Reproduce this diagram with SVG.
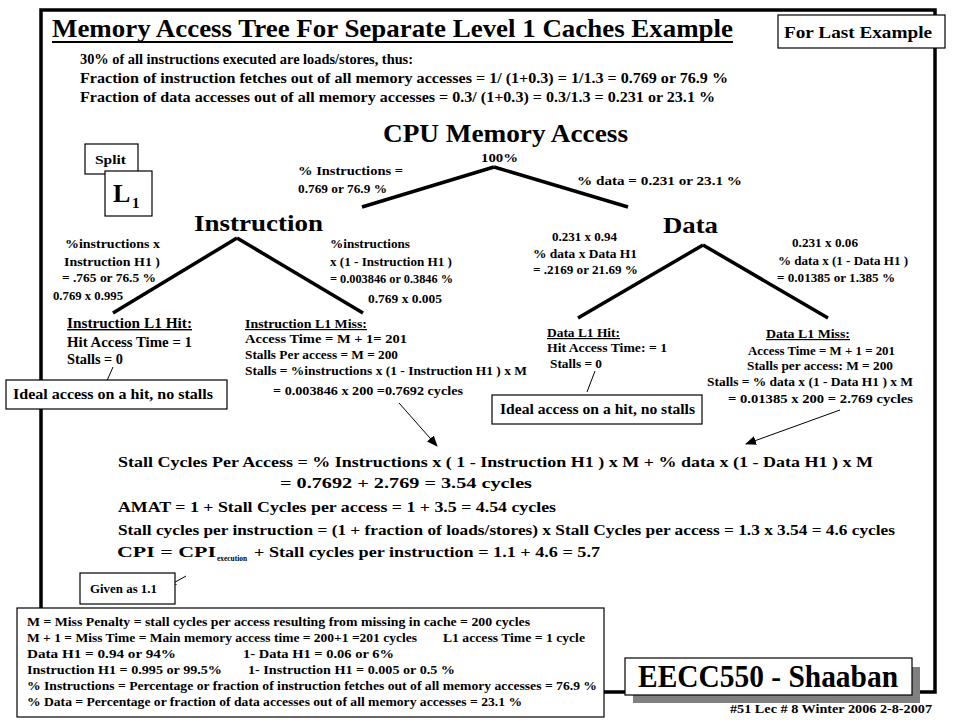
<svg xmlns="http://www.w3.org/2000/svg" width="960" height="720" viewBox="0 0 960 720">
<defs>
<marker id="arr" markerWidth="11" markerHeight="9" refX="10" refY="4.5" orient="auto" markerUnits="userSpaceOnUse">
<path d="M0,0 L11,4.5 L0,9 z" fill="#000"/>
</marker>
<marker id="arrs" markerWidth="7" markerHeight="6" refX="6" refY="3" orient="auto" markerUnits="userSpaceOnUse">
<path d="M0,0 L7,3 L0,6" fill="none" stroke="#000" stroke-width="1"/>
</marker>
<style>
text { font-family: "Liberation Serif", "Times New Roman", serif; font-weight: bold; fill: #000; }
.f30 { font-size: 31px; }
.f26 { font-size: 26px; }
.f24 { font-size: 24px; }
.f16 { font-size: 16px; }
.f15 { font-size: 15px; }
.f14 { font-size: 14px; }
.f13 { font-size: 13px; }
.f12 { font-size: 12px; }
.f11 { font-size: 11.5px; }
.u { text-decoration: underline; }
.box { fill: #fff; stroke: #000; stroke-width: 1.2; }
.tree { stroke: #000; stroke-width: 3.5; fill: none; }
.thin { stroke: #000; stroke-width: 1; fill: none; }
</style>
</defs>
<rect width="960" height="720" fill="#fff"/>
<rect id="frame" x="41" y="10" width="894" height="682" fill="none" stroke="#000" stroke-width="3.5"/>

<g id="title">
<text class="f26" x="52" y="37" textLength="681" lengthAdjust="spacingAndGlyphs">Memory Access Tree For Separate Level 1 Caches Example</text>
<line x1="52" y1="42" x2="733" y2="42" stroke="#000" stroke-width="2"/>
</g>

<g id="note-last">
<rect class="box" x="778" y="15" width="167" height="33"/>
<text class="f16" x="784" y="38" textLength="148" lengthAdjust="spacingAndGlyphs">For Last Example</text>
</g>

<g id="intro">
<text class="f14" x="80" y="64" textLength="333" lengthAdjust="spacingAndGlyphs">30% of all instructions executed are loads/stores, thus:</text>
<text class="f14" x="80" y="83" textLength="648" lengthAdjust="spacingAndGlyphs">Fraction of instruction fetches out of all memory accesses = 1/ (1+0.3) = 1/1.3 = 0.769 or 76.9 %</text>
<text class="f14" x="80" y="102" textLength="635" lengthAdjust="spacingAndGlyphs">Fraction of data accesses out of all memory accesses = 0.3/ (1+0.3) = 0.3/1.3 = 0.231 or 23.1 %</text>
</g>

<g id="root">
<text class="f26" x="383" y="142" textLength="245" lengthAdjust="spacingAndGlyphs">CPU Memory Access</text>
<text class="f13" x="481" y="162" textLength="37" lengthAdjust="spacingAndGlyphs">100%</text>
</g>

<g id="split-l1">
<rect class="box" x="85" y="144" width="53" height="30"/>
<text class="f13" x="95" y="164" textLength="31" lengthAdjust="spacingAndGlyphs">Split</text>
<rect class="box" x="105" y="171" width="47" height="45"/>
<text class="f26" x="113" y="202">L</text>
<text class="f15" x="132" y="208">1</text>
</g>

<g id="instruction">
<text class="f24" x="194" y="231" textLength="129" lengthAdjust="spacingAndGlyphs">Instruction</text>
</g>

<g id="data">
<text class="f24" x="663" y="233" textLength="55" lengthAdjust="spacingAndGlyphs">Data</text>
</g>

<g id="connectors">
<line class="tree" x1="494" y1="167" x2="362" y2="207"/>
<line class="tree" x1="494" y1="167" x2="628" y2="207"/>
<line class="tree" x1="237" y1="238" x2="113" y2="313"/>
<line class="tree" x1="237" y1="238" x2="363" y2="313"/>
<line class="tree" x1="703" y1="245" x2="578" y2="318"/>
<line class="tree" x1="703" y1="245" x2="828" y2="318"/>
<line class="thin" x1="113" y1="367" x2="106" y2="383"/>
<line class="thin" x1="595" y1="371" x2="587" y2="392"/>
<line class="thin" x1="399" y1="403" x2="437" y2="446" marker-end="url(#arr)"/>
<line class="thin" x1="840" y1="410" x2="746" y2="444" marker-end="url(#arr)"/>
<line class="thin" x1="186" y1="576" x2="170" y2="585" marker-end="url(#arrs)"/>
</g>

<g id="edge-labels">
<text class="f13" x="298" y="175" textLength="105" lengthAdjust="spacingAndGlyphs">% Instructions =</text>
<text class="f13" x="298" y="193" textLength="89" lengthAdjust="spacingAndGlyphs">0.769 or 76.9 %</text>
<text class="f13" x="577" y="185" textLength="165" lengthAdjust="spacingAndGlyphs">% data = 0.231 or 23.1 %</text>
<text class="f12" x="65" y="248" textLength="95" lengthAdjust="spacingAndGlyphs">%instructions x</text>
<text class="f12" x="64" y="266" textLength="96" lengthAdjust="spacingAndGlyphs">Instruction H1 )</text>
<text class="f12" x="62" y="282" textLength="94" lengthAdjust="spacingAndGlyphs">= .765 or 76.5 %</text>
<text class="f12" x="53" y="300" textLength="70" lengthAdjust="spacingAndGlyphs">0.769 x 0.995</text>
<text class="f12" x="330" y="248" textLength="80" lengthAdjust="spacingAndGlyphs">%instructions</text>
<text class="f12" x="330" y="266" textLength="122" lengthAdjust="spacingAndGlyphs">x (1 - Instruction H1 )</text>
<text class="f12" x="330" y="283" textLength="123" lengthAdjust="spacingAndGlyphs">= 0.003846 or 0.3846 %</text>
<text class="f12" x="368" y="303" textLength="74" lengthAdjust="spacingAndGlyphs">0.769 x 0.005</text>
<text class="f12" x="552" y="241" textLength="65" lengthAdjust="spacingAndGlyphs">0.231 x 0.94</text>
<text class="f12" x="533" y="258" textLength="104" lengthAdjust="spacingAndGlyphs">% data x Data H1</text>
<text class="f12" x="533" y="274" textLength="105" lengthAdjust="spacingAndGlyphs">= .2169 or 21.69 %</text>
<text class="f12" x="792" y="247" textLength="66" lengthAdjust="spacingAndGlyphs">0.231 x 0.06</text>
<text class="f12" x="778" y="265" textLength="130" lengthAdjust="spacingAndGlyphs">% data x (1 - Data H1 )</text>
<text class="f12" x="777" y="282" textLength="118" lengthAdjust="spacingAndGlyphs">= 0.01385 or 1.385 %</text>
</g>

<g id="instr-hit">
<text class="f14 u" x="67" y="328" textLength="125" lengthAdjust="spacingAndGlyphs">Instruction L1 Hit:</text>
<text class="f14" x="67" y="347" textLength="125" lengthAdjust="spacingAndGlyphs">Hit Access Time = 1</text>
<text class="f14" x="67" y="364" textLength="56" lengthAdjust="spacingAndGlyphs">Stalls = 0</text>
</g>

<g id="instr-miss">
<text class="f12 u" x="245" y="328" textLength="122" lengthAdjust="spacingAndGlyphs">Instruction L1 Miss:</text>
<text class="f12" x="245" y="343" textLength="162" lengthAdjust="spacingAndGlyphs">Access Time = M + 1= 201</text>
<text class="f12" x="245" y="359" textLength="153" lengthAdjust="spacingAndGlyphs">Stalls Per access = M = 200</text>
<text class="f12" x="245" y="375" textLength="282" lengthAdjust="spacingAndGlyphs">Stalls = %instructions x (1 - Instruction H1 ) x M</text>
<text class="f12" x="273" y="395" textLength="190" lengthAdjust="spacingAndGlyphs">= 0.003846 x 200 =0.7692 cycles</text>
</g>

<g id="data-hit">
<text class="f12 u" x="547" y="337" textLength="73" lengthAdjust="spacingAndGlyphs">Data L1 Hit:</text>
<text class="f12" x="547" y="352" textLength="120" lengthAdjust="spacingAndGlyphs">Hit Access Time: = 1</text>
<text class="f12" x="550" y="368" textLength="52" lengthAdjust="spacingAndGlyphs">Stalls = 0</text>
</g>

<g id="data-miss">
<text class="f12 u" x="766" y="338" textLength="84" lengthAdjust="spacingAndGlyphs">Data L1 Miss:</text>
<text class="f12" x="748" y="355" textLength="147" lengthAdjust="spacingAndGlyphs">Access Time = M + 1 = 201</text>
<text class="f12" x="747" y="370" textLength="146" lengthAdjust="spacingAndGlyphs">Stalls per access: M = 200</text>
<text class="f12" x="707" y="386" textLength="206" lengthAdjust="spacingAndGlyphs">Stalls = % data x (1 - Data H1 ) x M</text>
<text class="f12" x="728" y="403" textLength="185" lengthAdjust="spacingAndGlyphs">= 0.01385 x 200 = 2.769 cycles</text>
</g>

<g id="ideal-1">
<rect class="box" x="6" y="380" width="221" height="29"/>
<text class="f15" x="13" y="399" textLength="200" lengthAdjust="spacingAndGlyphs">Ideal access on a hit, no stalls</text>
</g>

<g id="ideal-2">
<rect class="box" x="492" y="395" width="210" height="29"/>
<text class="f15" x="500" y="414" textLength="195" lengthAdjust="spacingAndGlyphs">Ideal access on a hit, no stalls</text>
</g>

<g id="formulas">
<text class="f15" x="118" y="467" textLength="755" lengthAdjust="spacingAndGlyphs">Stall Cycles Per Access = % Instructions x ( 1 - Instruction H1 ) x M + % data x (1 - Data H1 ) x M</text>
<text class="f15" x="280" y="488" textLength="252" lengthAdjust="spacingAndGlyphs">= 0.7692 + 2.769 = 3.54 cycles</text>
<text class="f15" x="118" y="512" textLength="438" lengthAdjust="spacingAndGlyphs">AMAT = 1 + Stall Cycles per access = 1 + 3.5 = 4.54 cycles</text>
<text class="f15" x="118" y="535" textLength="777" lengthAdjust="spacingAndGlyphs">Stall cycles per instruction = (1 + fraction of loads/stores) x Stall Cycles per access = 1.3 x 3.54 = 4.6 cycles</text>
<text class="f15" x="117" y="557" textLength="99" lengthAdjust="spacingAndGlyphs">CPI = CPI</text>
<text x="217" y="561" style="font-size:8.5px" textLength="30" lengthAdjust="spacingAndGlyphs">execution</text>
<text class="f15" x="254" y="557" textLength="346" lengthAdjust="spacingAndGlyphs">+ Stall cycles per instruction = 1.1 + 4.6 = 5.7</text>
</g>

<g id="given">
<rect class="box" x="80" y="573" width="95" height="31"/>
<text class="f12" x="90" y="593" textLength="67" lengthAdjust="spacingAndGlyphs">Given as 1.1</text>
</g>

<g id="legend">
<rect class="box" x="17" y="608" width="587" height="109"/>
<text class="f11" x="27" y="626" textLength="503" lengthAdjust="spacingAndGlyphs">M = Miss Penalty = stall cycles per access resulting from missing in cache = 200 cycles</text>
<text class="f11" x="27" y="642" textLength="390" lengthAdjust="spacingAndGlyphs">M + 1 = Miss Time = Main memory access time = 200+1 =201 cycles</text>
<text class="f11" x="443" y="642" textLength="142" lengthAdjust="spacingAndGlyphs">L1 access Time = 1 cycle</text>
<text class="f11" x="27" y="658" textLength="149" lengthAdjust="spacingAndGlyphs">Data H1 = 0.94 or 94%</text>
<text class="f11" x="243" y="658" textLength="151" lengthAdjust="spacingAndGlyphs">1- Data H1 = 0.06 or 6%</text>
<text class="f11" x="27" y="674" textLength="195" lengthAdjust="spacingAndGlyphs">Instruction H1 = 0.995 or 99.5%</text>
<text class="f11" x="248" y="674" textLength="207" lengthAdjust="spacingAndGlyphs">1- Instruction H1 = 0.005 or 0.5 %</text>
<text class="f11" x="27" y="690" textLength="570" lengthAdjust="spacingAndGlyphs">% Instructions = Percentage or fraction of instruction fetches out of all memory accesses = 76.9 %</text>
<text class="f11" x="27" y="706" textLength="495" lengthAdjust="spacingAndGlyphs">% Data = Percentage or fraction of data accesses out of all memory accesses = 23.1 %</text>
</g>

<g id="footer">
<rect x="633" y="667" width="287" height="36" fill="#808080"/>
<rect class="box" x="625" y="658" width="287" height="37"/>
<text class="f30" x="638" y="687" textLength="260" lengthAdjust="spacingAndGlyphs">EECC550 - Shaaban</text>
<text class="f11" x="730" y="713" textLength="202" lengthAdjust="spacingAndGlyphs">#51 Lec # 8 Winter 2006 2-8-2007</text>
</g>
</svg>
